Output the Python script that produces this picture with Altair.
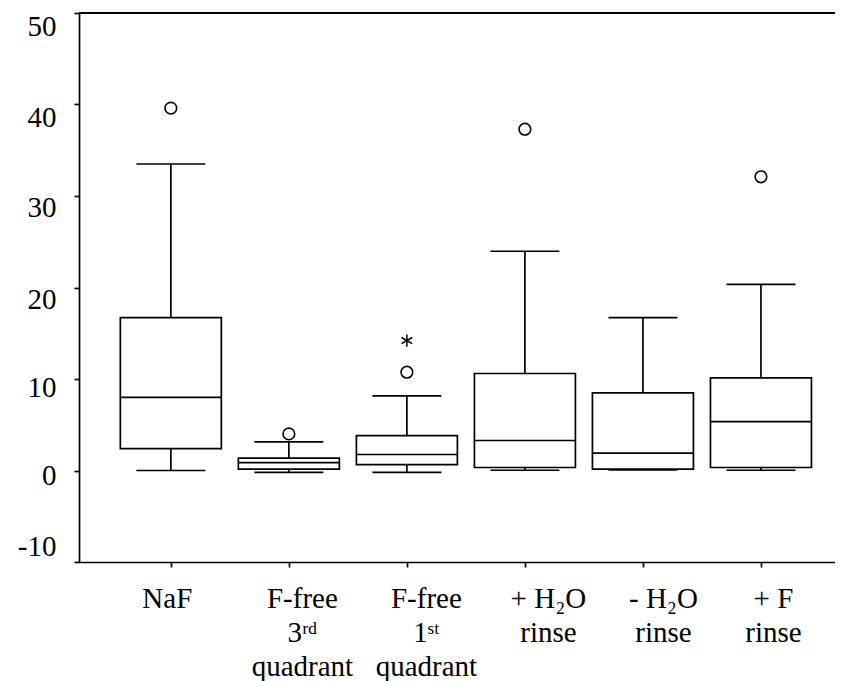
import json
import altair as alt
import pandas as pd

# ---- data ----
groups = [
    ["NaF"],
    ["F-free", "3ʳᵈ", "quadrant"],
    ["F-free", "1ˢᵗ", "quadrant"],
    ["+ H₂O", "rinse"],
    ["- H₂O", "rinse"],
    ["+ F", "rinse"],
]
lower = [0.0, -0.2, -0.2, 0.03, 0.07, 0.03]
q1 = [2.4, 0.15, 0.65, 0.33, 0.15, 0.33]
median = [8.0, 0.87, 1.75, 3.28, 1.9, 5.35]
q3 = [16.7, 1.35, 3.82, 10.6, 8.49, 10.13]
upper = [33.5, 3.13, 8.16, 23.96, 16.7, 20.35]

outlier_group = [0, 1, 2, 3, 5]
outlier_value = [39.6, 4.0, 10.74, 37.3, 32.1]
extreme_group = [2]
extreme_value = [14.2]

y_ticks = [-10, 0, 10, 20, 30, 40, 50]

# ---- tables ----
box = pd.DataFrame({
    "idx": list(range(len(groups))),
    "group": ["|".join(g) for g in groups],
    "lower": lower, "q1": q1, "median": median, "q3": q3, "upper": upper,
})
outl = pd.DataFrame({"idx": outlier_group, "value": outlier_value})
extr = pd.DataFrame({"idx": extreme_group, "value": extreme_value})

W, H = 756, 549
FONT = "Liberation Serif"
LW = 1.7

label_arr = json.dumps(["|".join(g) for g in groups], ensure_ascii=False)
x_label_offsets = [-4, 13, 19, 23, 20, 12]
y_label_offsets = {50: 13, 40: 12.5, 30: 11, 20: 12, 10: 8, 0: 5, -10: -16}

xscale = alt.Scale(domain=[-0.7358, 5.585], nice=False, zero=False)
yscale = alt.Scale(domain=[-10, 50], nice=False, zero=False)

xaxis = alt.Axis(
    values=list(range(len(groups))),
    labelExpr=f"split({label_arr}[datum.value], '|')",
    title=None, grid=False, labelAngle=0, labelAlign="center", labelBaseline="top",
    labelFont=FONT, labelFontSize=29, labelLineHeight=34, labelColor="black",
    labelPadding=17, tickSize=5, tickWidth=LW, tickColor="black",
    domainColor="black", domainWidth=LW,
    labelOffset={"condition": [{"test": f"datum.value === {i}", "value": o}
                               for i, o in enumerate(x_label_offsets)], "value": 0},
)
yaxis = alt.Axis(
    values=y_ticks, title=None, grid=False,
    labelExpr="datum.value < 0 ? '-' + abs(datum.value) : '' + datum.value",
    labelFont=FONT, labelFontSize=29, labelColor="black",
    labelBaseline="middle", labelPadding=18,
    labelOffset={"condition": [{"test": f"datum.value === {v}", "value": o}
                               for v, o in y_label_offsets.items()], "value": 0},
    tickSize=5, tickWidth=LW, tickColor="black",
    domainColor="black", domainWidth=LW,
)

base = alt.Chart(box)
X = alt.X("idx:Q", scale=xscale, axis=xaxis)

whisk_lo = base.mark_rule(color="black", strokeWidth=LW).encode(
    x=X, y=alt.Y("lower:Q", scale=yscale, axis=yaxis), y2="q1:Q")
whisk_hi = base.mark_rule(color="black", strokeWidth=LW).encode(
    x="idx:Q", y="q3:Q", y2="upper:Q")
boxes = base.mark_bar(size=101, fill="white", stroke="black", strokeWidth=LW).encode(
    x="idx:Q", y="q1:Q", y2="q3:Q")
med = base.mark_tick(orient="horizontal", size=101, thickness=LW, color="black", opacity=1).encode(
    x="idx:Q", y="median:Q")
cap_lo = base.mark_tick(orient="horizontal", size=69, thickness=LW, color="black", opacity=1).encode(
    x="idx:Q", y="lower:Q")
cap_hi = base.mark_tick(orient="horizontal", size=69, thickness=LW, color="black", opacity=1).encode(
    x="idx:Q", y="upper:Q")
pts = alt.Chart(outl).mark_point(shape="circle", filled=False, size=135, strokeWidth=1.6,
                                  color="black", opacity=1).encode(x="idx:Q", y="value:Q")
stars = alt.Chart(extr).mark_point(
    shape="M0,-1L0,1M-0.87,-0.5L0.87,0.5M-0.87,0.5L0.87,-0.5",
    filled=False, size=150, strokeWidth=1.5, color="black", opacity=1,
).encode(x="idx:Q", y="value:Q")
top = base.mark_rule(color="black", strokeWidth=LW).encode(
    x=alt.value(0), x2=alt.value(W), y=alt.value(0))

chart = alt.layer(whisk_lo, whisk_hi, boxes, med, cap_lo, cap_hi, pts, stars, top).properties(
    width=W, height=H,
    autosize=alt.AutoSizeParams(type="none"),
    padding={"left": 71, "top": 5, "right": 0, "bottom": 125},
).configure_view(stroke=None).configure(background="white")

chart.save("out.html", embed_options={"renderer": "svg", "actions": False})
